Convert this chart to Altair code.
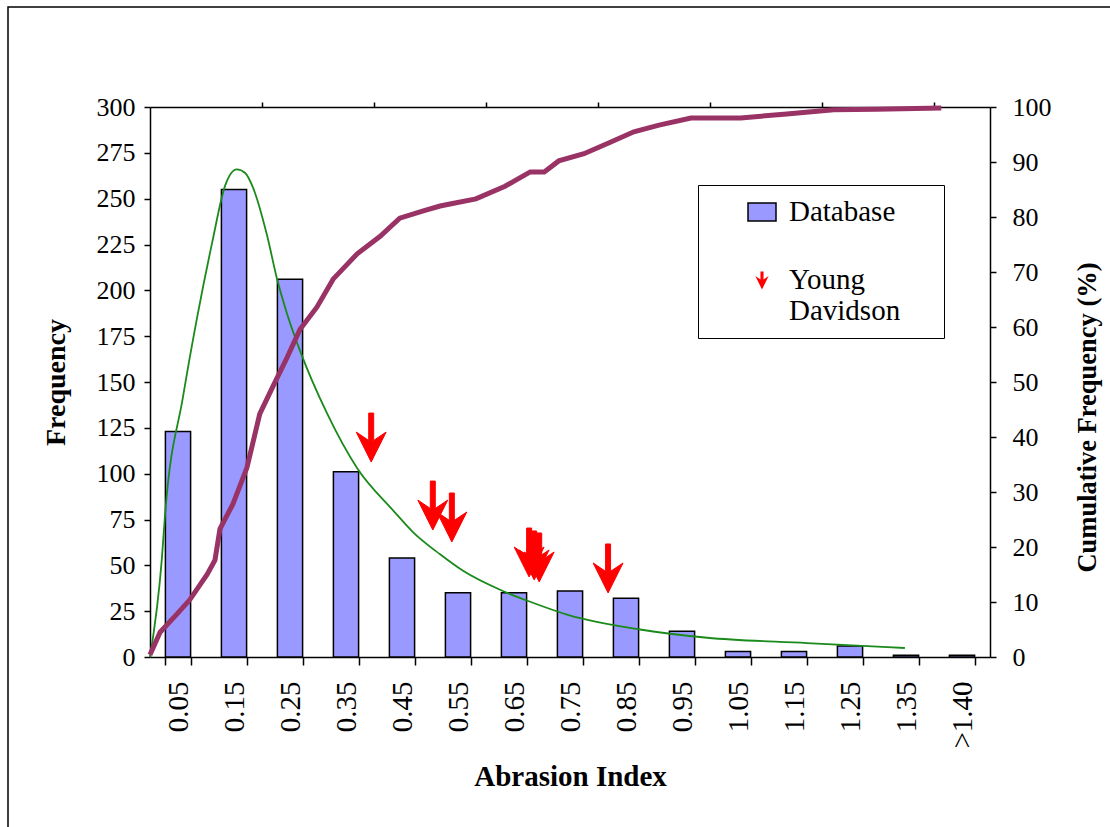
import altair as alt
import pandas as pd

# ---------------- data ----------------
categories = ["0.05", "0.15", "0.25", "0.35", "0.45", "0.55", "0.65", "0.75",
              "0.85", "0.95", "1.05", "1.15", "1.25", "1.35", ">1.40"]
frequency = [123, 255, 206, 101, 54, 35, 35, 36, 32, 14, 3, 3, 6, 1, 1]

# smooth frequency curve (green), x = abrasion index, y = frequency
green_x = [0.0, 0.021, 0.027, 0.059, 0.084, 0.111, 0.134, 0.155, 0.170, 0.184, 0.209,
           0.227, 0.245, 0.268, 0.316, 0.370, 0.434, 0.470, 0.518, 0.559, 0.630,
           0.680, 0.746, 0.875, 0.995, 1.173, 1.348]
green_y = [0, 53, 78, 142, 185, 226, 257, 266, 264, 256, 230,
           206, 187, 167, 133, 103, 80, 68, 56, 47, 36,
           30, 23, 15, 10.5, 7.6, 4.9]

# cumulative frequency (%), x = abrasion index
cum_x = [0.0, 0.018, 0.048, 0.071, 0.102, 0.116, 0.125, 0.148, 0.173, 0.196, 0.220,
         0.245, 0.268, 0.298, 0.327, 0.370, 0.411, 0.446, 0.488, 0.518, 0.538,
         0.582, 0.634, 0.679, 0.704, 0.730, 0.775, 0.820, 0.864, 0.909, 0.966,
         1.055, 1.132, 1.221, 1.297, 1.413]
cum_pct = [0.4, 4.5, 7.8, 10.4, 15.0, 17.6, 23.3, 27.8, 34.4, 44.2, 49.3,
           54.5, 59.6, 63.6, 68.7, 73.3, 76.5, 79.8, 81.1, 82.0, 82.4,
           83.3, 85.6, 88.2, 88.2, 90.2, 91.5, 93.5, 95.5, 96.7, 98.0,
           98.0, 98.7, 99.5, 99.6, 99.8]

# Young Davidson samples (arrows): abrasion index and arrow centre height (frequency units)
yd_x = [0.395, 0.505, 0.539, 0.677, 0.686, 0.695, 0.818]
yd_y = [119.7, 82.6, 76.1, 57.0, 55.4, 54.3, 48.3]

series_names = ["Database", "Young Davidson"]
top_ticks = [0.2, 0.4, 0.6, 0.8, 1.0, 1.2, 1.4]
left_ticks = list(range(0, 301, 25))
right_ticks = list(range(0, 101, 10))

FONT = "Liberation Serif, Times New Roman, serif"
RECT_PATH = "M -1 -0.64 L 1 -0.64 L 1 0.64 L -1 0.64 Z"
ARROW_PATH = ("M -0.056 -0.55 L 0.056 -0.55 L 0.056 0.064 L 0.336 -0.123 "
              "L 0 0.55 L -0.336 -0.123 L -0.056 0.064 Z")

bars_df = pd.DataFrame({"category": categories, "freq": frequency,
                        "series": series_names[0]})
green_df = pd.DataFrame({"x": green_x, "y": green_y})
cum_df = pd.DataFrame({"x": cum_x, "pct": cum_pct})
yd_df = pd.DataFrame({"x": yd_x, "y": yd_y, "series": series_names[1]})
frame_df = pd.DataFrame({"f": [0]})

legend = alt.Legend(
    title="\u2003", titleOrient="right", titleFontSize=26, titlePadding=32,
    orient="none", legendX=548, legendY=78, direction="vertical",
    strokeColor="black", padding=12, symbolOffset=37, labelOffset=12,
    symbolSize=784, symbolStrokeWidth=1.5, rowPadding=38,
    labelFont=FONT, labelFontSize=29, labelColor="black", labelLimit=300,
    labelExpr="datum.label == 'Young Davidson' ? ['Young', 'Davidson'] : datum.label",
)

fill_enc = alt.Fill("series:N", scale=alt.Scale(domain=series_names, range=["#9999FF", "#FF0000"]), legend=legend)
stroke_enc = alt.Stroke("series:N", scale=alt.Scale(domain=series_names, range=["black", "#FF0000"]), legend=legend)
shape_enc = alt.Shape("series:N", scale=alt.Scale(domain=series_names, range=[RECT_PATH, ARROW_PATH]), legend=legend)

xq_scale = alt.Scale(domain=[0, 1.5], nice=False, zero=False)
yl_scale = alt.Scale(domain=[0, 300], nice=False)

frame = alt.Chart(frame_df).mark_rect(fillOpacity=0, stroke="black", strokeWidth=1.5).encode(
    x=alt.value(-142), x2=alt.value(990), y=alt.value(-100), y2=alt.value(760)
)

bars = alt.Chart(bars_df).mark_bar(strokeWidth=1.5).encode(
    x=alt.X("category:N", sort=categories,
            scale=alt.Scale(paddingInner=0.55, paddingOuter=0.275),
            axis=alt.Axis(title="Abrasion Index", labelAngle=270, labelFontSize=29,
                          tickSize=8, labelPadding=16, tickBand="extent",
                          titleFontSize=29, titlePadding=14)),
    y=alt.Y("freq:Q", scale=yl_scale,
            axis=alt.Axis(title="Frequency", values=left_ticks, tickSize=6,
                          labelPadding=9, labelFontSize=26, titleFontSize=28,
                          titlePadding=26)),
    fill=fill_enc,
    stroke=stroke_enc,
)

green = alt.Chart(green_df).mark_line(color="#1a8a1a", strokeWidth=1.8, interpolate="monotone").encode(
    x=alt.X("x:Q", scale=xq_scale,
            axis=alt.Axis(orient="top", values=top_ticks, labels=False, title=None,
                          tickSize=5)),
    y=alt.Y("y:Q", scale=yl_scale, axis=None),
)

cum = alt.Chart(cum_df).mark_line(color="#993366", strokeWidth=5).encode(
    x=alt.X("x:Q", scale=xq_scale, axis=None),
    y=alt.Y("pct:Q", scale=alt.Scale(domain=[0, 100], nice=False),
            axis=alt.Axis(orient="right", title="Cumulative Frequency (%)",
                          values=right_ticks, tickSize=6, labelPadding=16,
                          labelFontSize=26, titleAngle=270, titleFontSize=26.5,
                          titleX=97, titleY=310, titleBaseline="middle",
                          titleAlign="center")),
)

arrows = alt.Chart(yd_df).mark_point(filled=True, size=7921, strokeWidth=1, opacity=1).encode(
    x=alt.X("x:Q", scale=xq_scale, axis=None),
    y=alt.Y("y:Q", scale=yl_scale, axis=None),
    fill=fill_enc,
    stroke=stroke_enc,
    shape=shape_enc,
)

chart = alt.layer(frame, bars, green, cum, arrows).resolve_scale(
    x="independent", y="independent"
).properties(
    width=840, height=550,
    autosize=alt.AutoSizeParams(type="none"),
    padding={"left": 150, "top": 107, "right": 120, "bottom": 170},
    background="white",
).configure_axis(
    grid=False, domainColor="black", tickColor="black", domainWidth=1.5, tickWidth=1.5,
    labelFont=FONT, labelColor="black", titleFont=FONT, titleFontSize=26,
    titleFontWeight="bold", titleColor="black",
).configure_view(stroke="transparent")

chart.save("out.html", embed_options={"renderer": "svg", "actions": False})
